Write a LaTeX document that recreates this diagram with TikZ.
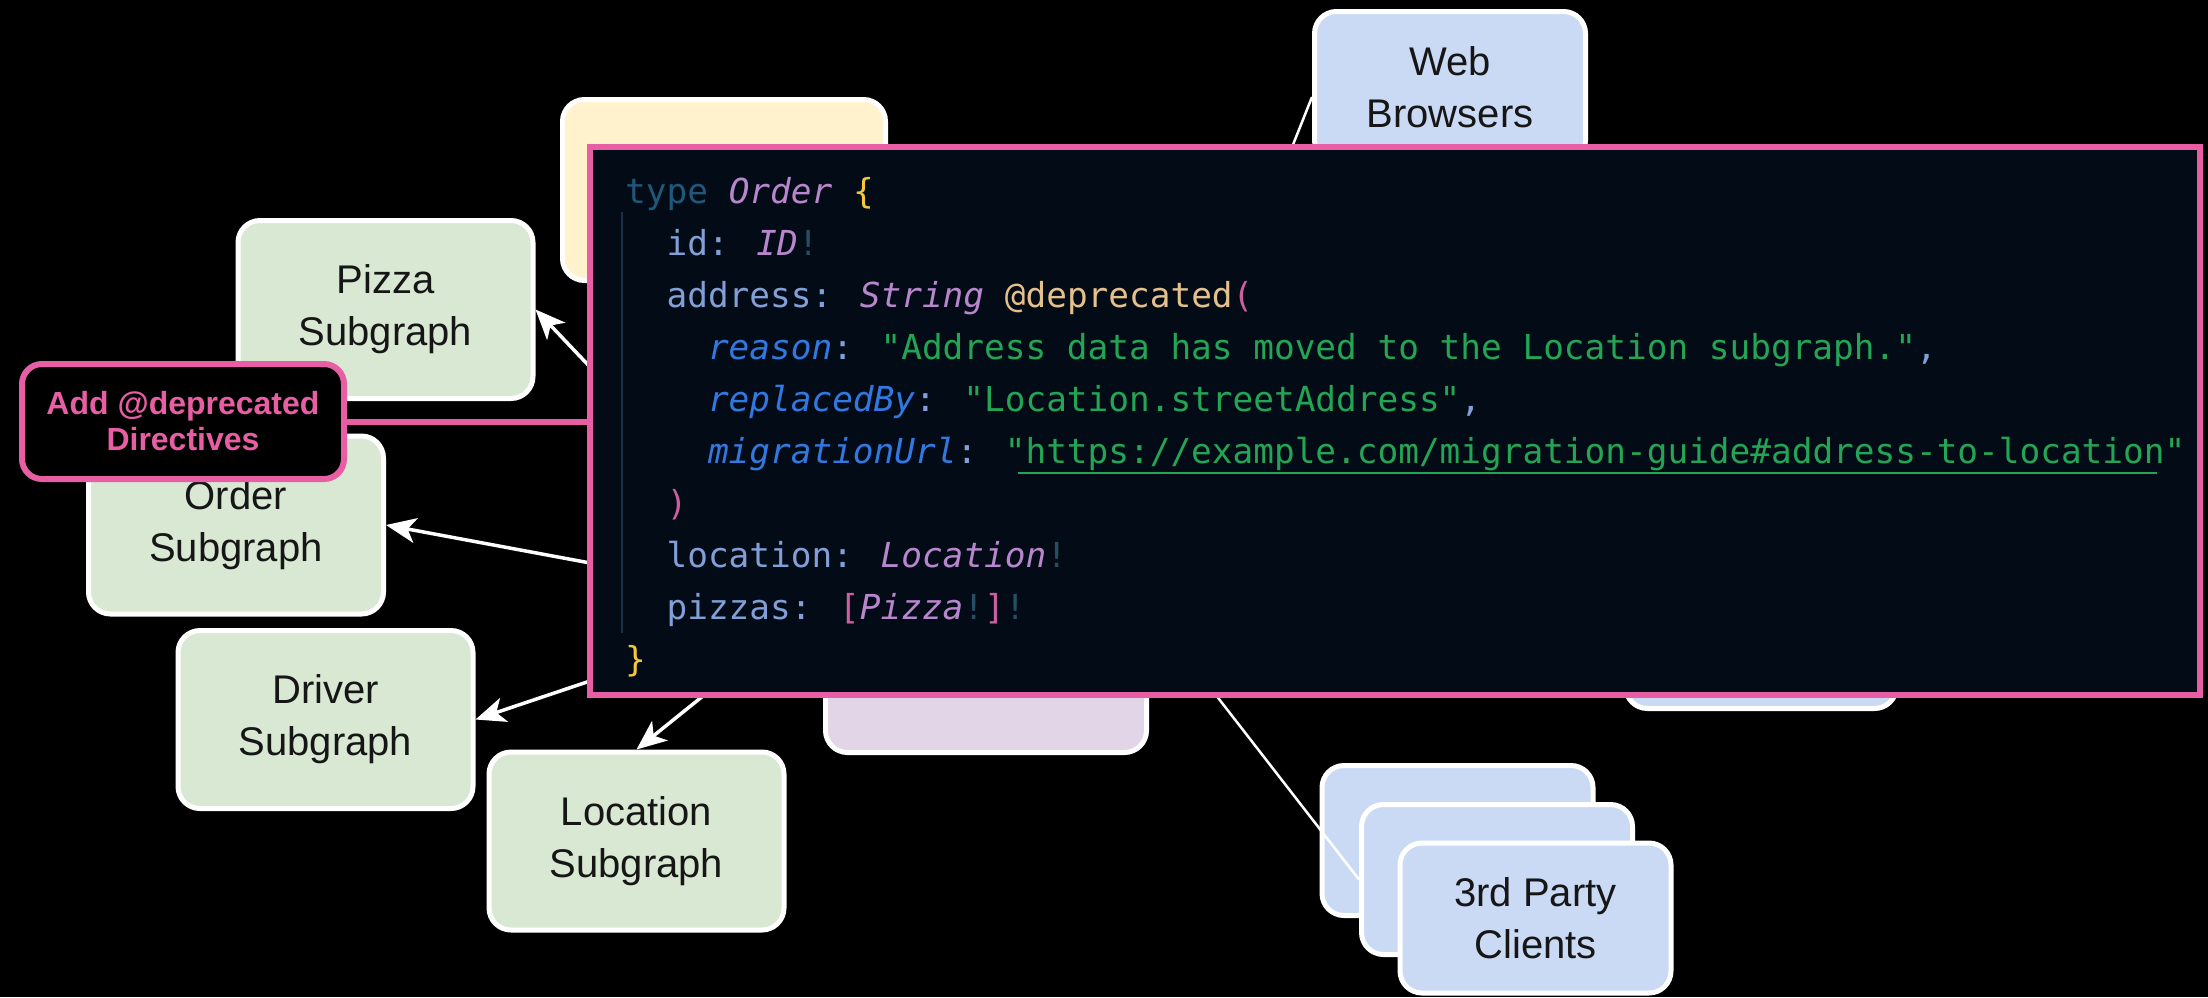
\documentclass[tikz,border=0pt]{standalone}
\usepackage{fontspec}
\usetikzlibrary{arrows.meta}
\newfontfamily\nodefont{Liberation Sans}
\newfontfamily\codefont{DejaVu Sans Mono}
\definecolor{pinkC}{RGB}{232,94,164}
\definecolor{codebg}{RGB}{3,12,22}
\definecolor{sgGreen}{RGB}{217,232,211}
\definecolor{clBlue}{RGB}{202,218,245}
\definecolor{rtYellow}{RGB}{255,242,204}
\definecolor{spPurple}{RGB}{225,213,231}
\definecolor{textDark}{RGB}{22,22,22}
\definecolor{kwC}{RGB}{30,88,122}
\definecolor{typeC}{RGB}{184,134,204}
\definecolor{braceC}{RGB}{245,200,60}
\definecolor{fieldC}{RGB}{130,160,215}
\definecolor{bangC}{RGB}{40,78,100}
\definecolor{dirC}{RGB}{228,192,140}
\definecolor{parenC}{RGB}{205,95,160}
\definecolor{argC}{RGB}{50,120,225}
\definecolor{strC}{RGB}{35,165,85}
\definecolor{guideC}{RGB}{25,50,75}
\tikzset{
  box/.style={draw=white, line width=5pt, rounded corners=22pt, align=center,
    text=textDark, font=\nodefont\fontsize{40}{52}\selectfont, inner sep=0pt},
  sgbox/.style={box, fill=sgGreen, minimum width=295pt, minimum height=178pt},
  clbox/.style={box, fill=clBlue, minimum width=271pt, minimum height=151pt},
  arr/.style={draw=white, line width=3.5pt, -{Stealth[length=30pt,width=25pt,inset=8pt]}},
  cline/.style={draw=white, line width=2.5pt},
  codeline/.style={anchor=base west, inner sep=0pt, text=fieldC,
    font=\codefont\fontsize{34.4}{52}\selectfont},
  pinkline/.style={draw=pinkC, line width=6pt},
}
\newcommand\ty[1]{{\itshape\textcolor{typeC}{#1}}}
\newcommand\ag[1]{{\itshape\textcolor{argC}{#1}}}
\newcommand\bg{\textcolor{bangC}{!}}
\begin{document}
\begin{tikzpicture}[x=1pt,y=-1pt]
\fill[black] (0,0) rectangle (2208,997);
\useasboundingbox (0,0) rectangle (2208,997);
% hidden hubs
\coordinate (sghub) at (816,605);
\coordinate (clhub) at (1122,574);
% background boxes
\node[box, fill=rtYellow, minimum width=323pt, minimum height=181pt] (router) at (724,190) {};
\node[box, fill=spPurple, minimum width=321pt, minimum height=181pt] (supergraph) at (986,662) {};
\node[clbox] (mobile) at (1761,633) {};
\node[clbox] (web) at (1450,87) {Web\\Browsers};
% subgraphs
\node[sgbox] (pizza) at (385.5,309.5) {Pizza\\Subgraph};
\node[sgbox] (order) at (236,525) {Order\\Subgraph};
\node[sgbox] (driver) at (325.5,719.5) {Driver\\Subgraph};
\node[sgbox] (location) at (636.5,841) {Location\\Subgraph};
% arrows
\draw[arr] (sghub) -- (pizza.east);
\draw[arr] (sghub) -- (order.east);
\draw[arr] (sghub) -- (driver.east);
\draw[arr] (sghub) -- (location.north);
% clients
\node[clbox, minimum height=150pt] (tpback) at (1457.5,840.5) {};
\node[clbox, minimum height=150pt] (tpmid) at (1497,879.5) {};
\draw[cline] (clhub) -- ([yshift=-10pt]web.west);
\draw[cline] (clhub) -- (tpmid.west);
\node[clbox, minimum height=150pt] (tpfront) at (1535.5,918) {3rd Party\\Clients};
% code panel
\node[draw=pinkC, line width=6pt, fill=codebg, minimum width=1610pt, minimum height=548pt, inner sep=0pt] (panel) at (1395,421) {};
\draw[guideC, line width=1.5pt] (622,212) -- (622,633);
\node[codeline] (c1) at (625,203) {\textcolor{kwC}{type} \ty{Order} \textcolor{braceC}{\{}};
\node[codeline] (c2) at (666.4,255) {id: \ty{ID}\bg};
\node[codeline] (c3) at (666.4,307) {address: \ty{String} \textcolor{dirC}{@deprecated}\textcolor{parenC}{(}};
\node[codeline] (c4) at (707.8,359) {\ag{reason}: \textcolor{strC}{"Address data has moved to the Location subgraph."},};
\node[codeline] (c5) at (707.8,411) {\ag{replacedBy}: \textcolor{strC}{"Location.streetAddress"},};
\node[codeline] (c6) at (707.8,463) {\ag{migrationUrl}: \textcolor{strC}{"https://example.com/migration-guide\#address-to-location"}};
\draw[strC, line width=2pt] (1018.3,473) -- (2156.8,473);
\node[codeline] (c7) at (666.4,515) {\textcolor{parenC}{)}};
\node[codeline] (c8) at (666.4,567) {location: \ty{Location}\bg};
\node[codeline] (c9) at (666.4,619) {pizzas: \textcolor{parenC}{[}\ty{Pizza}\bg\textcolor{parenC}{]}\bg};
\node[codeline] (c10) at (625,671) {\textcolor{braceC}{\}}};
% callout
\node[draw=pinkC, fill=black, line width=6pt, rounded corners=20pt, minimum width=322pt, minimum height=115pt,
  align=center, text=pinkC, inner sep=0pt, font=\nodefont\bfseries\fontsize{32}{36}\selectfont] (callout) at (183,421.5) {Add @deprecated\\Directives};
\draw[pinkline] (callout.east) -- (callout.east -| panel.west);
\end{tikzpicture}
\end{document}
